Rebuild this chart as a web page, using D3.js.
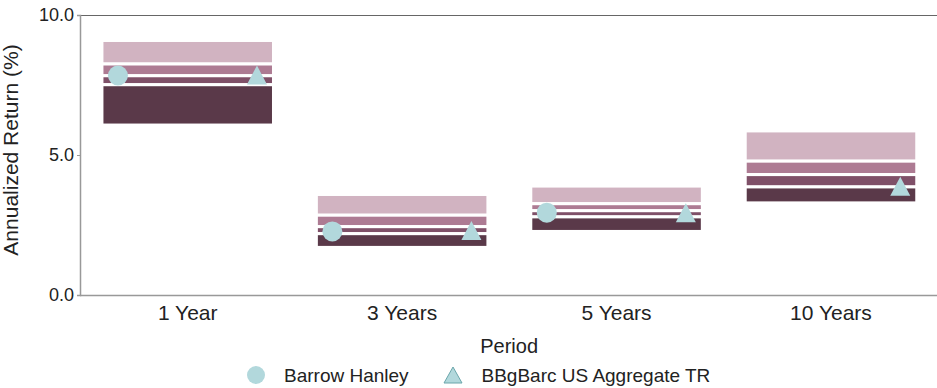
<!DOCTYPE html>
<html>
<head>
<meta charset="utf-8">
<script src="https://cdn.jsdelivr.net/npm/d3@7"></script>
<style>
  body { margin: 0; background: #fff; }
  svg { display: block; font-family: "Liberation Sans", Arial, sans-serif; }
  .tick-lbl { font-size: 18px; fill: #222; }
</style>
</head>
<body>
<svg id="chart" width="937" height="388"></svg>
<script>
// ── Data: peer-group percentile ranges + manager / benchmark returns ──────────
const periods   = ["1 Year", "3 Years", "5 Years", "10 Years"];
const pct5      = [9.09, 3.59, 3.89, 5.86];   // top of range
const pct25     = [8.25, 2.85, 3.26, 4.78];
const pct50     = [7.83, 2.44, 3.01, 4.30];
const pct75     = [7.51, 2.19, 2.79, 3.86];
const pct95     = [6.07, 1.70, 2.27, 3.29];   // bottom of range
const manager   = [7.84, 2.27, 2.94, null];   // Barrow Hanley
const benchmark = [7.86, 2.30, 2.94, 3.88];   // BBgBarc US Aggregate TR
const yTicks    = [0, 5, 10];

const bandColors = ["#d1b3c1", "#ad7b93", "#7f5068", "#5a3949"];
const markerFill = "#b2d8dc";

const VW = 937, VH = 388;
const M  = { top: 15, left: 80.5, right: -1.2, bottom: 93 };

const svg = d3.select("#chart");

const x = d3.scaleBand().domain(periods)
  .range([M.left, VW - M.right])
  .paddingInner(0.2).paddingOuter(0.1);
const y = d3.scaleLinear().domain([0, 10]).range([VH - M.bottom, M.top]);

// Frame: top border, bottom axis line
svg.append("line")
  .attr("x1", 80).attr("x2", VW).attr("y1", y(10) + 0.5).attr("y2", y(10) + 0.5)
  .attr("stroke", "#666").attr("stroke-width", 1);
svg.append("line")
  .attr("x1", 80).attr("x2", VW).attr("y1", y(0) + 0.5).attr("y2", y(0) + 0.5)
  .attr("stroke", "#999").attr("stroke-width", 1.5);

// Left axis
const yAxis = svg.append("g").attr("transform", "translate(80,0)")
  .call(d3.axisLeft(y).tickValues(yTicks).tickFormat(d3.format(".1f")).tickSize(3).tickPadding(3));
yAxis.select(".domain").attr("stroke", "#999").attr("stroke-width", 1.5);
yAxis.selectAll(".tick line").attr("stroke", "#999");
yAxis.selectAll(".tick text").attr("class", "tick-lbl")
  .attr("font-family", null).attr("font-size", null).attr("fill", null);

// Category labels
svg.append("g").selectAll("text")
  .data(periods)
  .join("text")
  .attr("x", d => x(d) + x.bandwidth() / 2)
  .attr("y", 320)
  .attr("text-anchor", "middle")
  .attr("font-size", "21px").attr("fill", "#222")
  .text(d => d);

// Axis titles
svg.append("text")
  .attr("x", (80 + VW - M.right) / 2).attr("y", 352.5)
  .attr("text-anchor", "middle")
  .attr("font-size", "20px").attr("fill", "#222")
  .text("Period");
svg.append("text")
  .attr("transform", "translate(18,150) rotate(-90)")
  .attr("text-anchor", "middle")
  .attr("font-size", "21px").attr("fill", "#222")
  .text("Annualized Return (%)");

// Floating range bands (5th–25th–50th–75th–95th)
const bounds = [pct5, pct25, pct50, pct75, pct95];
const bandRows = periods.flatMap((p, i) =>
  bandColors.map((c, k) => ({ p, top: bounds[k][i], bot: bounds[k + 1][i], c })));

svg.append("g").selectAll("rect")
  .data(bandRows)
  .join("rect")
  .attr("x", d => x(d.p))
  .attr("width", x.bandwidth())
  .attr("y", d => y(d.top))
  .attr("height", d => y(d.bot) - y(d.top))
  .attr("fill", d => d.c)
  .attr("stroke", "#fff").attr("stroke-width", 3);

// Markers
const triPath = (w, h) => `M0,${-h / 2}L${w / 2},${h / 2}L${-w / 2},${h / 2}Z`;

svg.append("g").selectAll("circle")
  .data(periods.map((p, i) => ({ p, v: manager[i] })).filter(d => d.v != null))
  .join("circle")
  .attr("cx", d => x(d.p) + 16)
  .attr("cy", d => y(d.v))
  .attr("r", 10)
  .attr("fill", markerFill);

svg.append("g").selectAll("path")
  .data(periods.map((p, i) => ({ p, v: benchmark[i] })).filter(d => d.v != null))
  .join("path")
  .attr("transform", d => `translate(${x(d.p) + x.bandwidth() - 16.5},${y(d.v)})`)
  .attr("d", triPath(20, 19))
  .attr("fill", markerFill);

// Legend
const leg = svg.append("g");
leg.append("circle").attr("cx", 256).attr("cy", 375).attr("r", 9).attr("fill", markerFill);
leg.append("text").attr("x", 284).attr("y", 381.5)
  .attr("font-size", "19px").attr("fill", "#222").text("Barrow Hanley");
leg.append("path").attr("transform", "translate(453,375)")
  .attr("d", triPath(18, 16))
  .attr("fill", markerFill).attr("stroke", "#6aa6ab").attr("stroke-width", 1);
leg.append("text").attr("x", 481.5).attr("y", 381.5)
  .attr("font-size", "19px").attr("fill", "#222").text("BBgBarc US Aggregate TR");
</script>
</body>
</html>
